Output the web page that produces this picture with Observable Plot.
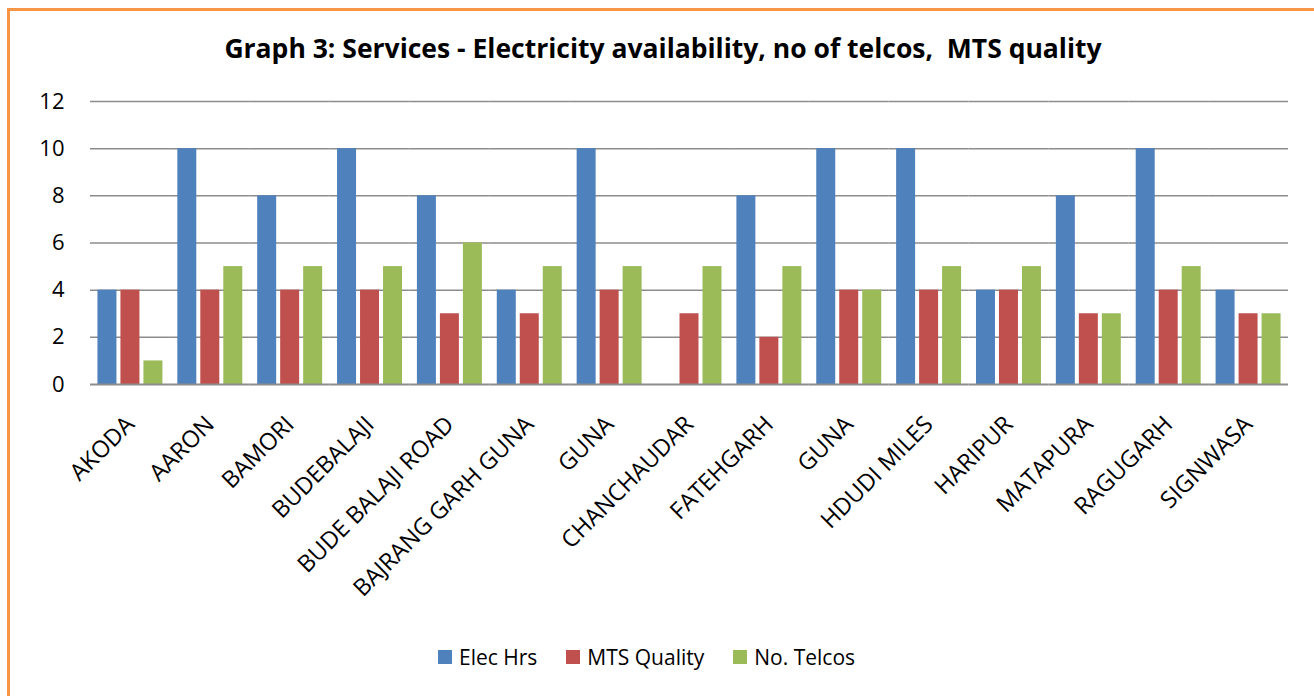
<!DOCTYPE html>
<html>
<head>
<meta charset="utf-8">
<script src="https://cdn.jsdelivr.net/npm/d3@7"></script>
<script src="https://cdn.jsdelivr.net/npm/@observablehq/plot@0.6"></script>
<style>
  body { margin: 0; background: #fff; }
  #wrap { position: relative; width: 1314px; height: 696px; overflow: hidden; font-family: "Open Sans", sans-serif; color: #000; }
  #frame { position: absolute; left: 7px; top: 8px; width: 1330px; height: 720px; border: 3px solid #F79646; box-sizing: border-box; }
  #title { position: absolute; top: 30px; left: 0; width: 1326px; text-align: center; font-weight: 700; font-size: 26.5px; line-height: 36px; }
  #chart { position: absolute; left: 0; top: 0; }
  #legend { position: absolute; left: 438px; top: 642px; display: flex; align-items: center; font-size: 21px; line-height: 30px; }
  .item { display: flex; align-items: center; margin-right: 29px; }
  .sw { width: 14px; height: 14px; margin-right: 7px; }
</style>
</head>
<body>
<div id="wrap">
  <div id="frame"></div>
  <div id="chart"></div>
  <div id="title">Graph 3: Services - Electricity availability, no of telcos,&nbsp; MTS quality</div>
  <div id="legend"></div>
</div>
<script>
const categories = ["AKODA", "AARON", "BAMORI", "BUDEBALAJI", "BUDE BALAJI ROAD", "BAJRANG GARH GUNA", "GUNA", "CHANCHAUDAR", "FATEHGARH", "GUNA", "HDUDI MILES", "HARIPUR", "MATAPURA", "RAGUGARH", "SIGNWASA"];
const elecHrs    = [4, 10, 8, 10, 8, 4, 10, 0, 8, 10, 10, 4, 8, 10, 4];
const mtsQuality = [4, 4, 4, 4, 3, 3, 4, 3, 2, 4, 4, 4, 3, 4, 3];
const noTelcos   = [1, 5, 5, 5, 6, 5, 5, 5, 5, 4, 5, 5, 3, 5, 3];
const seriesNames = ["Elec Hrs", "MTS Quality", "No. Telcos"];
const seriesColors = ["#4F81BD", "#C0504D", "#9BBB59"];
const yTicks = [0, 2, 4, 6, 8, 10, 12];

const seriesValues = [elecHrs, mtsQuality, noTelcos];
const data = [];
categories.forEach((c, i) => {
  seriesValues.forEach((arr, j) => {
    data.push({ idx: i, series: seriesNames[j], value: arr[i] });
  });
});

const chart = Plot.plot({
  width: 1314,
  height: 640,
  marginLeft: 90,
  marginRight: 26,
  marginTop: 101,
  marginBottom: 256,
  style: { fontFamily: "'Open Sans', sans-serif", color: "#000", background: "transparent" },
  fx: { domain: d3.range(categories.length), padding: 0, round: false, label: null },
  x: { domain: seriesNames, paddingInner: 0.174, paddingOuter: 0.324, round: false, axis: null },
  y: { domain: [0, 12], label: null },
  color: { domain: seriesNames, range: seriesColors },
  marks: [
    Plot.ruleY(yTicks.filter(d => d > 0), { stroke: "#8c8c8c", strokeWidth: 1.5 }),
    Plot.barY(data, { fx: "idx", x: "series", y: "value", fill: "series" }),
    Plot.ruleY([0], { stroke: "#8c8c8c", strokeWidth: 2 }),
    Plot.axisY({ ticks: yTicks, tickSize: 0, tickPadding: 26, fontSize: 22, label: null }),
    Plot.axisFx({ anchor: "bottom", tickFormat: i => categories[i], tickRotate: -45, tickSize: 0, tickPadding: 36, fontSize: 23.5, label: null })
  ]
});
document.getElementById("chart").appendChild(chart);

const legend = document.getElementById("legend");
seriesNames.forEach((s, j) => {
  const item = document.createElement("div");
  item.className = "item";
  const sw = document.createElement("div");
  sw.className = "sw";
  sw.style.background = seriesColors[j];
  const t = document.createElement("span");
  t.textContent = s;
  item.appendChild(sw);
  item.appendChild(t);
  legend.appendChild(item);
});
</script>
</body>
</html>
